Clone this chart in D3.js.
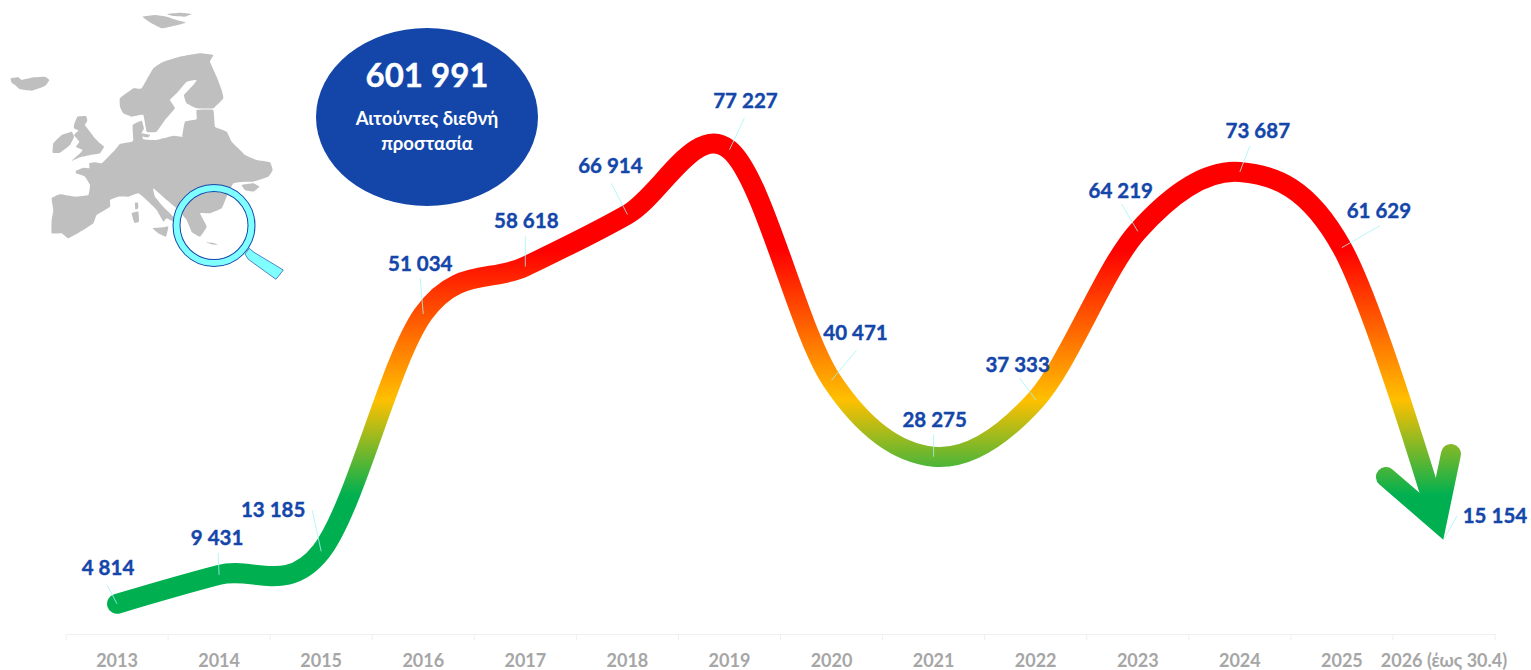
<!DOCTYPE html>
<html>
<head>
<meta charset="utf-8">
<script src="https://cdnjs.cloudflare.com/ajax/libs/d3/7.8.5/d3.min.js"></script>
<style>
  body { margin: 0; background: #fff; }
  svg { display: block; font-family: Lato, "Open Sans", sans-serif; font-weight: 700; }
</style>
</head>
<body>
<svg width="1531" height="670"></svg>
<script>
var years = ['2013', '2014', '2015', '2016', '2017', '2018', '2019', '2020', '2021', '2022', '2023', '2024', '2025', '2026 (έως 30.4)'];
var applicants = [4814, 9431, 13185, 51034, 58618, 66914, 77227, 40471, 28275, 37333, 64219, 73687, 61629, 15154];
var totalLabel = '601 991';
var totalCaption = ['Αιτούντες διεθνή', 'προστασία'];

// where each value label sits relative to its point
var labelDx = [-9, -2, -48, -3, 1, -17, 16, 24, 1, -18, -17, 18, 37, 51];
var labelDy = [-36, -37, -41, -50, -45, -48, -49, -47, -37, -35, -40, -41, -37, -23];
// end of the leader line, relative to the point
var leaderDx = [-10, -1, -9, -3, 0, -16, 15, 25, 0, -16, -16, 10, 38, 13];
var leaderDy = [-19, -22, -41, -36, -30, -31, -32, -30, -22, -22, -27, -26, -22, -23];

var svg = d3.select('svg');
var margin = { left: 66, right: 36, bottom: 36 };
var width = 1531, height = 670;

var x = d3.scaleBand().domain(years).range([margin.left, width - margin.right]);
var y = d3.scaleLinear().domain([0, 80000]).range([height - margin.bottom, height - margin.bottom - 80000 * 0.00627]);

function px(i) { return x(years[i]) + x.bandwidth() / 2; }

// map, traced in 3x units
var mapShapes = [
  [[228,512],[250,503],[268,505],[268,490],[285,487],[305,490],[325,470],[345,450],[360,432],[395,425],[400,420],[398,375],[425,362],[432,385],[425,400],[430,418],[450,420],[470,420],[490,415],[520,407],[545,410],[585,415],[548,410],[548,400],[555,365],[590,358],[590,330],[640,330],[645,380],[680,395],[695,425],[715,445],[735,465],[770,480],[810,487],[818,510],[805,530],[760,545],[735,545],[700,550],[680,590],[665,625],[630,640],[600,640],[620,680],[600,710],[575,695],[560,660],[530,625],[500,600],[460,565],[465,590],[490,620],[520,650],[520,665],[500,655],[490,665],[470,630],[440,600],[415,580],[385,590],[355,590],[330,600],[330,620],[290,645],[280,670],[250,690],[205,715],[185,700],[155,700],[155,660],[160,630],[155,595],[180,583],[225,590],[265,585],[270,555],[255,530],[228,520]],
  [[360,295],[400,265],[425,265],[460,205],[490,185],[540,170],[600,160],[640,165],[630,185],[650,230],[665,270],[670,295],[640,325],[590,325],[560,310],[552,285],[580,255],[590,240],[560,245],[530,280],[510,300],[525,325],[495,360],[470,395],[440,395],[430,345],[395,350],[370,340],[360,320]],
  [[32,235],[55,232],[65,240],[100,232],[135,230],[148,240],[135,258],[95,272],[60,268],[45,255],[35,248]],
  [[160,430],[185,405],[215,395],[222,410],[210,435],[180,458],[158,458]],
  [[222,375],[232,350],[258,348],[262,362],[255,375],[270,395],[285,415],[300,430],[312,440],[300,460],[270,465],[240,472],[215,483],[240,460],[248,450],[228,440],[238,425],[222,405],[235,392],[222,385]],
  [[428,50],[465,45],[500,50],[530,60],[558,68],[520,78],[485,85],[455,70]],
  [[500,42],[540,38],[575,42],[555,50],[520,48]],
  [[405,608],[414,608],[415,625],[406,628]],
  [[395,640],[415,635],[417,665],[403,668]],
  [[458,685],[490,682],[505,680],[498,710],[475,700]],
  [[618,727],[640,729],[655,735],[635,733]],
  [[725,555],[760,550],[778,560],[760,575],[735,570]],
  [[425,400],[450,405],[445,412],[428,410]]
];

var map = svg.append('g').attr('transform', 'scale(0.3333)');
map.selectAll('path')
  .data(mapShapes)
  .enter().append('path')
  .attr('d', d3.line().curve(d3.curveCardinalClosed.tension(0.7)))
  .attr('fill', '#bfbfbf');

// magnifier
var lens = svg.append('g');
lens.append('path')
  .attr('transform', 'scale(0.3333)')
  .attr('d', d3.line().curve(d3.curveLinearClosed)([[735,762],[748,745],[762,757],[850,810],[828,838],[745,778]]))
  .attr('fill', '#7fffff')
  .attr('stroke', '#1446aa')
  .attr('stroke-width', 2);
lens.append('circle').attr('cx', 214).attr('cy', 225.5).attr('r', 37.5)
  .attr('fill', 'none').attr('stroke', '#1446aa').attr('stroke-width', 8);
lens.append('circle').attr('cx', 214).attr('cy', 225.5).attr('r', 37.5)
  .attr('fill', 'none').attr('stroke', '#7fffff').attr('stroke-width', 6);

// total bubble
svg.append('ellipse').attr('cx', 427).attr('cy', 117).attr('rx', 111).attr('ry', 89).attr('fill', '#1446aa');
svg.append('text').attr('x', 427).attr('y', 87).attr('text-anchor', 'middle')
  .attr('fill', '#fff').attr('stroke', '#fff').attr('stroke-width', 0.4)
  .style('font-size', '33px').text(totalLabel);
svg.selectAll('.caption')
  .data(totalCaption)
  .enter().append('text')
  .attr('class', 'caption')
  .attr('x', 427)
  .attr('y', function(d, i) { return 125 + i * 25; })
  .attr('text-anchor', 'middle')
  .attr('fill', '#fff')
  .style('font-size', '18.5px')
  .text(function(d) { return d; });

// gradient follows height on the page, not the line
var grad = svg.append('defs').append('linearGradient')
  .attr('id', 'heat')
  .attr('gradientUnits', 'userSpaceOnUse')
  .attr('x1', 0).attr('x2', 0).attr('y1', 130).attr('y2', 620);
[[0, '#ff0000'], [0.245, '#ff0000'], [0.551, '#ffc000'], [0.745, '#00b050'], [1, '#00b050']].forEach(function(s) {
  grad.append('stop').attr('offset', s[0]).attr('stop-color', s[1]);
});

var line = d3.line()
  .x(function(d, i) { return px(i); })
  .y(function(d) { return y(d); })
  .curve(d3.curveCatmullRom.alpha(0));

var trend = svg.append('path')
  .attr('d', line(applicants))
  .attr('fill', 'none')
  .attr('stroke', 'url(#heat)')
  .attr('stroke-width', 20)
  .attr('stroke-linecap', 'round');
// stop short so the line end stays inside the arrow head
var len = trend.node().getTotalLength();
trend.attr('stroke-dasharray', (len - 32) + ' ' + len);

// arrow head on the last point
var tipX = px(applicants.length - 1), tipY = y(applicants[applicants.length - 1]);
svg.append('path')
  .attr('d', d3.line()([[tipX - 58, tipY - 62], [tipX - 7, tipY - 18], [tipX + 7, tipY - 85]]))
  .attr('fill', 'none')
  .attr('stroke', 'url(#heat)')
  .attr('stroke-width', 20)
  .attr('stroke-linecap', 'round')
  .attr('stroke-linejoin', 'miter')
  .attr('stroke-miterlimit', 10);

// leader lines
svg.selectAll('.leader')
  .data(applicants)
  .enter().append('line')
  .attr('class', 'leader')
  .attr('x1', function(d, i) { return px(i); })
  .attr('y1', function(d) { return y(d); })
  .attr('x2', function(d, i) { return px(i) + leaderDx[i]; })
  .attr('y2', function(d, i) { return y(d) + leaderDy[i]; })
  .attr('stroke', '#a6f4f4')
  .attr('stroke-width', 0.8);

// value labels, space as thousands mark like the source
var fmt = function(d) { return d3.format(',')(d).replace(',', ' '); };
svg.selectAll('.value')
  .data(applicants)
  .enter().append('text')
  .attr('class', 'value')
  .attr('x', function(d, i) { return px(i) + labelDx[i]; })
  .attr('y', function(d, i) { return y(d) + labelDy[i] + 7; })
  .attr('text-anchor', 'middle')
  .attr('fill', '#1446aa')
  .attr('stroke', '#1446aa')
  .attr('stroke-width', 0.4)
  .style('font-size', '20.5px')
  .text(fmt);

// axis: ticks between the bands
var xAxis = d3.axisBottom(x).tickSize(0).tickPadding(20);
var axisG = svg.append('g')
  .attr('transform', 'translate(0,' + y(0) + ')')
  .call(xAxis);
axisG.select('.domain').attr('stroke', '#f0f0f0');
axisG.selectAll('text')
  .attr('fill', '#a6a6a6')
  .style('font-size', '18px')
  .style('font-family', 'Lato, sans-serif')
  .style('font-weight', 700);
axisG.selectAll('.edge')
  .data(years.concat(['end']))
  .enter().append('line')
  .attr('class', 'edge')
  .attr('x1', function(d, i) { return margin.left + i * x.step(); })
  .attr('x2', function(d, i) { return margin.left + i * x.step(); })
  .attr('y1', 0).attr('y2', 6)
  .attr('stroke', '#f0f0f0');
</script>
</body>
</html>
